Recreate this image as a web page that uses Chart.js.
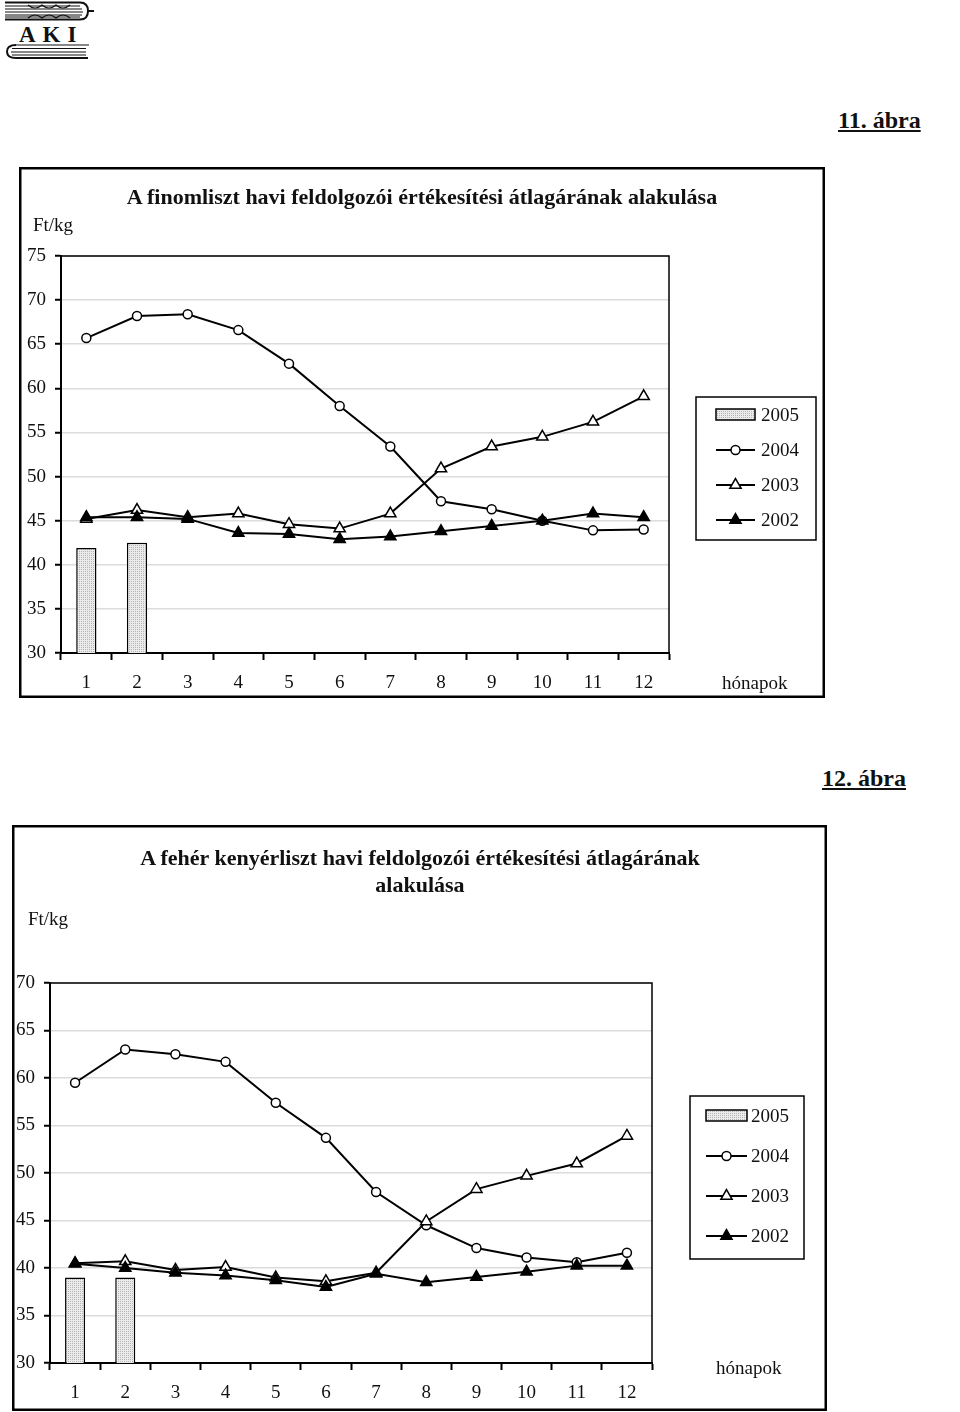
<!DOCTYPE html>
<html>
<head>
<meta charset="utf-8">
<script src="https://cdn.jsdelivr.net/npm/chart.js@4.4.1/dist/chart.umd.min.js"></script>
<style>
  body { margin: 0; width: 960px; height: 1412px; position: relative; background: #fff; overflow: hidden;
         font-family: "Liberation Serif", "Times New Roman", serif; color: #111; }
  .t { position: absolute; white-space: nowrap; line-height: 1; font-size: 19px; z-index: 2; }
  .b { font-weight: bold; }
  .h { font-size: 22px; }
  .u { text-decoration: underline; }
  canvas { position: absolute; }
</style>
</head>
<body>

<svg style="position:absolute;left:0;top:0" width="100" height="62" viewBox="0 0 100 62">
  <g stroke="#111" fill="none" stroke-width="1.2">
    <path d="M5 2.5 H80 Q88 2.5 88 11 Q88 19.5 80 19.5 H5" stroke-width="2"/>
    <path d="M5 6 H80 M5 9 H82 M5 12 H83 M5 15 H82 M5 17 H80"/>
    <path d="M28 5 q7 6 14 0 q7 6 14 0 q7 6 14 0 M28 18 q7 -6 14 0 q7 -6 14 0 q7 -6 14 0"/>
    <path d="M88 11 H94" stroke-width="2"/>
    <path d="M16 45 Q7 45 7 51.5 Q7 58 16 58 H88" stroke-width="2"/>
    <path d="M16 45 H89 M12 48.5 H86 M11 52 H86 M12 55 H86"/>
  </g>
  <text x="19" y="42" font-family="Liberation Serif" font-weight="bold" font-size="23" fill="#111" letter-spacing="7">AKI</text>
</svg>

<div class="t b u" style="left:838px;top:108px;font-size:24px">11. ábra</div>
<div class="t b h" style="left:0;width:844px;text-align:center;top:186px">A finomliszt havi feldolgozói értékesítési átlagárának alakulása</div>
<div class="t" style="left:33px;top:215px">Ft/kg</div>
<div class="t" style="left:722px;top:673px">hónapok</div>

<div class="t b u" style="left:822px;top:766px;font-size:24px">12. ábra</div>
<div class="t b h" style="left:0;width:840px;text-align:center;top:844px;line-height:27px">A fehér kenyérliszt havi feldolgozói értékesítési átlagárának<br>alakulása</div>
<div class="t" style="left:28px;top:909px">Ft/kg</div>
<div class="t" style="left:716px;top:1358px">hónapok</div>

<canvas id="flourChart" width="806" height="531" style="left:19px;top:167px"></canvas>
<canvas id="breadChart" width="815" height="586" style="left:12px;top:825px"></canvas>

<script>
const months = ['1', '2', '3', '4', '5', '6', '7', '8', '9', '10', '11', '12'];
const years = ['2005', '2004', '2003', '2002'];

// 11. ábra – finomliszt (Ft/kg)
const flour2005 = [41.9, 42.5, null, null, null, null, null, null, null, null, null, null];
const flour2004 = [65.7, 68.2, 68.4, 66.6, 62.8, 58.0, 53.4, 47.2, 46.3, 45.0, 43.9, 44.0];
const flour2003 = [45.2, 46.2, 45.4, 45.8, 44.6, 44.1, 45.8, 50.9, 53.4, 54.5, 56.2, 59.1];
const flour2002 = [45.4, 45.4, 45.2, 43.6, 43.5, 42.9, 43.2, 43.8, 44.4, 45.0, 45.8, 45.4];

// 12. ábra – fehér kenyérliszt (Ft/kg)
const bread2005 = [39.0, 39.0, null, null, null, null, null, null, null, null, null, null];
const bread2004 = [59.5, 63.0, 62.5, 61.7, 57.4, 53.7, 48.0, 44.5, 42.1, 41.1, 40.6, 41.6];
const bread2003 = [40.5, 40.7, 39.8, 40.1, 39.0, 38.6, 39.5, 44.9, 48.3, 49.7, 51.0, 53.9];
const bread2002 = [40.45, 40.0, 39.5, 39.2, 38.7, 38.0, 39.4, 38.5, 39.05, 39.6, 40.25, 40.25];

const FONT = 'Liberation Serif';

function dotPattern(ctx) {
  const c = document.createElement('canvas');
  c.width = 2; c.height = 2;
  const g = c.getContext('2d');
  g.fillStyle = '#ebebeb';
  g.fillRect(0, 0, 2, 2);
  g.fillStyle = '#b4b4b4';
  g.fillRect(0, 0, 1, 1);
  return ctx.createPattern(c, 'repeat');
}

function drawMarker(ctx, style, x, y) {
  ctx.beginPath();
  if (style === 'circle') {
    ctx.arc(x, y, 4.5, 0, Math.PI * 2);
  } else {
    const r = 6.5;
    for (let i = 0; i < 3; i++) {
      const a = i * 2 * Math.PI / 3;
      const px = x + Math.sin(a) * r, py = y - Math.cos(a) * r;
      i ? ctx.lineTo(px, py) : ctx.moveTo(px, py);
    }
    ctx.closePath();
  }
  ctx.fill();
  ctx.stroke();
}

// plot frame, outer box and the boxed legend
const framePlugin = {
  id: 'frame',
  beforeDatasetsDraw(chart) {
    const { ctx, chartArea: a } = chart;
    ctx.save();
    ctx.strokeStyle = '#000';
    ctx.lineWidth = 1.5;
    ctx.strokeRect(a.left, a.top, a.right - a.left, a.bottom - a.top);
    ctx.restore();
  },
  afterDraw(chart, args, opts) {
    const { ctx } = chart;
    ctx.save();
    ctx.strokeStyle = '#000';
    ctx.lineWidth = 2.5;
    ctx.strokeRect(1.25, 1.25, chart.width - 2.5, chart.height - 2.5);

    const L = opts.legend;
    ctx.lineWidth = 1.5;
    ctx.fillStyle = '#fff';
    ctx.fillRect(L.x, L.y, L.w, L.h);
    ctx.strokeRect(L.x, L.y, L.w, L.h);
    ctx.font = L.fontSize + 'px "' + FONT + '"';
    ctx.textBaseline = 'middle';
    chart.data.datasets.forEach((ds, i) => {
      const y = L.rows[i];
      if (ds.type === 'bar') {
        ctx.fillStyle = ds.backgroundColor;
        ctx.fillRect(L.x0, y - 6, L.x1 - L.x0, 11);
        ctx.lineWidth = 1.5;
        ctx.strokeRect(L.x0, y - 6, L.x1 - L.x0, 11);
      } else {
        ctx.lineWidth = 2;
        ctx.beginPath();
        ctx.moveTo(L.x0, y);
        ctx.lineTo(L.x1, y);
        ctx.stroke();
        ctx.lineWidth = 1.5;
        ctx.fillStyle = ds.pointBackgroundColor;
        drawMarker(ctx, ds.pointStyle, (L.x0 + L.x1) / 2, y);
      }
      ctx.fillStyle = '#111';
      ctx.fillText(ds.label, L.tx, y + 1);
    });
    ctx.restore();
  }
};

function lineSet(label, data, style, fill, order) {
  return {
    type: 'line', label, data, order,
    borderColor: '#000', borderWidth: 2, tension: 0,
    pointStyle: style, pointRadius: style === 'circle' ? 4.5 : 6.5,
    pointBorderColor: '#000', pointBorderWidth: 1.5,
    pointBackgroundColor: fill,
  };
}

function makeChart(id, series, yMax, geom) {
  const el = document.getElementById(id);
  const ctx = el.getContext('2d');
  return new Chart(el, {
    type: 'bar',
    data: {
      labels: months,
      datasets: [
        { type: 'bar', label: years[0], data: series[0], order: 4,
          backgroundColor: dotPattern(ctx), borderColor: '#000', borderWidth: 1.5,
          borderSkipped: false, barPercentage: 0.4, categoryPercentage: 1 },
        lineSet(years[1], series[1], 'circle', '#fff', 3),
        lineSet(years[2], series[2], 'triangle', '#fff', 2),
        lineSet(years[3], series[3], 'triangle', '#000', 1),
      ],
    },
    options: {
      responsive: false,
      animation: false,
      layout: { padding: { top: geom.top, right: geom.right, left: 0, bottom: 0 } },
      plugins: {
        legend: { display: false },
        tooltip: { enabled: false },
        frame: { legend: geom.legend },
      },
      scales: {
        x: {
          offset: true,
          grid: { drawOnChartArea: false, offset: true, tickLength: 7, tickColor: '#000', tickWidth: 2 },
          border: { color: '#000', width: 2 },
          ticks: { color: '#111', padding: 12, font: { family: FONT, size: 19 } },
          afterFit(s) { s.height = geom.bottom; },
        },
        y: {
          min: 30, max: yMax,
          grid: { color: '#dcdcdc', lineWidth: 1.5, tickColor: '#000', tickLength: 6, tickWidth: 2 },
          border: { color: '#000', width: 2 },
          ticks: { stepSize: 5, color: '#111', padding: 9, font: { family: FONT, size: 19 } },
          afterFit(s) { s.width = geom.left; },
        },
      },
    },
    plugins: [framePlugin],
  });
}

makeChart('flourChart', [flour2005, flour2004, flour2003, flour2002], 75, {
  top: 89, right: 156, left: 42, bottom: 45,
  legend: { x: 677, y: 230, w: 120, h: 143, rows: [248, 283, 318, 353], x0: 697, x1: 736, tx: 742, fontSize: 19 },
});

makeChart('breadChart', [bread2005, bread2004, bread2003, bread2002], 70, {
  top: 158, right: 175, left: 38, bottom: 48,
  legend: { x: 678, y: 271, w: 114, h: 163, rows: [291, 331, 371, 411], x0: 694, x1: 735, tx: 739, fontSize: 19 },
});
</script>
</body>
</html>
